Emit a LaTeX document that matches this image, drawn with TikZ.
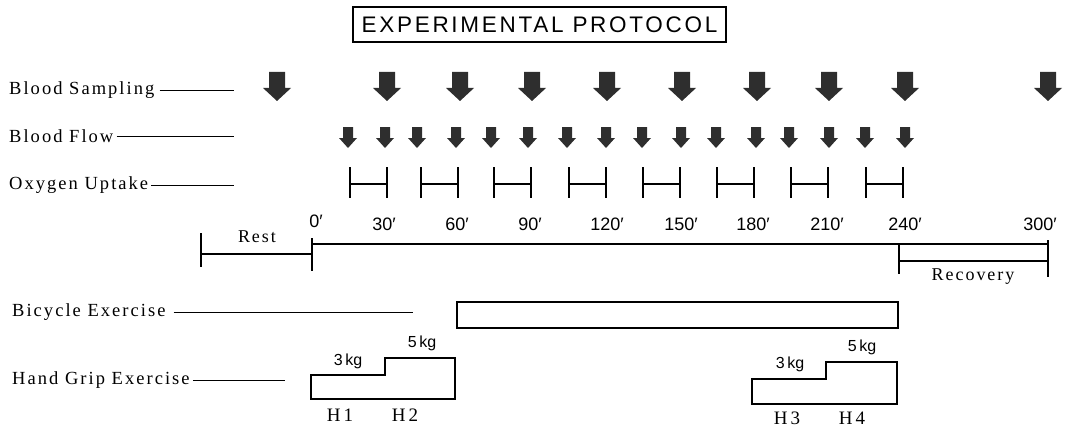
\documentclass[tikz,border=0pt]{standalone}
\usepackage{fontspec}
\setmainfont{Liberation Serif}
\setsansfont{Liberation Sans}
\newfontfamily\titlefont[LetterSpace=12]{Liberation Sans}
\newfontfamily\labfont[LetterSpace=11]{Liberation Serif}
\newfontfamily\numfont{Liberation Sans}
\begin{document}
\begin{tikzpicture}[x=1pt,y=-1pt,
  lab/.style={font=\labfont\fontsize{18.5}{20}\selectfont, anchor=west, inner sep=0pt},
  lead/.style={line width=0.9pt},
  thick line/.style={line width=1.5pt},
  boxline/.style={line width=1.8pt, line join=miter},
  minute/.style={font=\numfont\fontsize{18}{20}\selectfont, inner sep=0pt},
  serifsmall/.style={font=\labfont\fontsize{18}{20}\selectfont, inner sep=0pt},
  kg/.style={font=\numfont\fontsize{16}{18}\selectfont, inner sep=0pt},
  hlab/.style={font=\labfont\fontsize{19}{21}\selectfont, inner sep=0pt},
  arrfill/.style={fill=black!82},
  bigarr/.pic={\fill[arrfill] (-8,0) -- (8,0) -- (8,16) -- (14,16) -- (0,29) -- (-14,16) -- (-8,16) -- cycle;},
  smallarr/.pic={\fill[arrfill] (-5,0) -- (5,0) -- (5,11) -- (9,11) -- (0,21) -- (-9,11) -- (-5,11) -- cycle;},
  o2bar/.pic={\draw[line width=1.4pt] (0,0) -- (0,31) (0,17) -- (37,17) (37,0) -- (37,31);}
]
\useasboundingbox (0,0) rectangle (1072,428);

% title
\node[draw, line width=1.3pt, minimum width=373pt, minimum height=35pt, inner sep=0pt,
      font=\titlefont\fontsize{22.5}{24}\selectfont] (title) at (539.5,24.5)
      {EXPERIMENTAL\hspace{9pt}PROTOCOL};

% row labels
\node[lab] (bs) at (9,90) {Blood Sampling};
\node[lab] (bf) at (9,136) {Blood Flow};
\node[lab] (ou) at (9,185) {Oxygen Uptake};
\node[lab] (be) at (12,312) {Bicycle Exercise};
\node[lab] (hg) at (12,380) {Hand Grip Exercise};

\coordinate (bsE) at (234,90);
\coordinate (bfE) at (234,136);
\coordinate (ouE) at (234,185);
\coordinate (beE) at (413,312);
\coordinate (hgE) at (285,380);
\draw[lead] ([xshift=5pt]bs.east) -- (bsE);
\draw[lead] ([xshift=3pt]bf.east) -- (bfE);
\draw[lead] ([xshift=3pt]ou.east) -- (ouE);
\draw[lead] ([xshift=8pt]be.east) -- (beE);
\draw[lead] ([xshift=3pt]hg.east) -- (hgE);

% blood sampling arrows
\foreach \x in {277,387,460,532,607,682,757,829,905,1048}
  \pic at (\x,72) {bigarr};
% blood flow arrows
\foreach \x in {348,385,417,456,491,528,567,606,642,681,716,756,789,829,865,905}
  \pic at (\x,127) {smallarr};
% oxygen uptake bars
\foreach \x in {350,421,494,569,643,717,791,866}
  \pic at (\x,167) {o2bar};

% timeline
\draw[thick line] (201,233) -- (201,267);
\draw[thick line] (201,254) -- (312,254);
\draw[thick line] (312,238) -- (312,271);
\draw[thick line] (312,244) -- (1048,244);
\draw[thick line] (899,244) -- (899,274);
\draw[thick line] (899,261) -- (1048,261);
\draw[thick line] (1048,240) -- (1048,277);

\node[serifsmall] (rest) at (257,237) {Rest};
\node[serifsmall] (recov) at (973,277) {Recovery};

\node[minute] (m0) at (316,221) {0′};
\node[minute] (m30) at (384,224) {30′};
\node[minute] (m60) at (457,224) {60′};
\node[minute] (m90) at (530,224) {90′};
\node[minute] (m120) at (607,224) {120′};
\node[minute] (m150) at (681,224) {150′};
\node[minute] (m180) at (753,224) {180′};
\node[minute] (m210) at (827,224) {210′};
\node[minute] (m240) at (905,224) {240′};
\node[minute] (m300) at (1040,224) {300′};

% bicycle exercise
\draw[boxline] (457,302) rectangle (898,328);

% hand grip
\draw[boxline] (311,375) -- (385,375) -- (385,358) -- (455,358) -- (455,399) -- (311,399) -- cycle;
\draw[boxline] (752,379) -- (826,379) -- (826,362) -- (897,362) -- (897,404) -- (752,404) -- cycle;

\node[kg] (k1) at (348,361) {3\,kg};
\node[kg] (k2) at (422,343) {5\,kg};
\node[kg] (k3) at (790,364) {3\,kg};
\node[kg] (k4) at (862,347) {5\,kg};

\node[hlab] (h1) at (340,415) {H\,1};
\node[hlab] (h2) at (405,415) {H\,2};
\node[hlab] (h3) at (787,418) {H\,3};
\node[hlab] (h4) at (852,418) {H\,4};
\end{tikzpicture}
\end{document}
